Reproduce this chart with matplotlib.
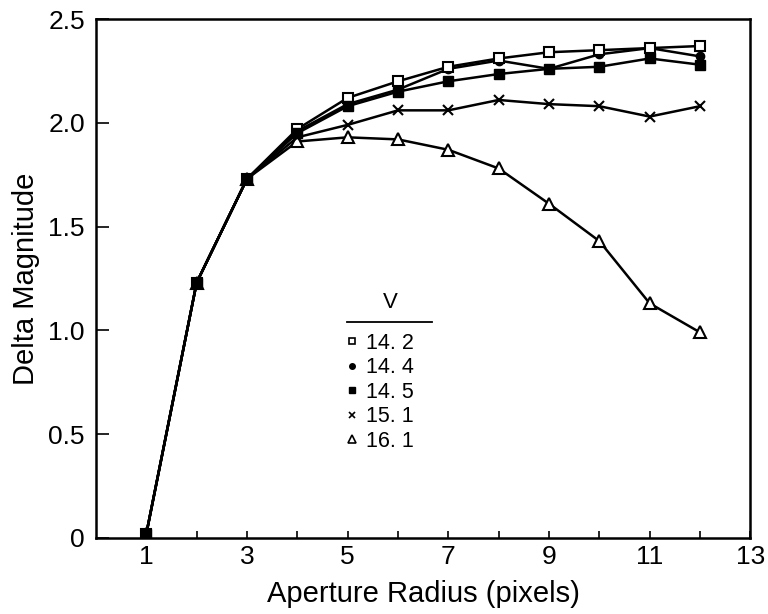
import matplotlib
matplotlib.use("Agg")
import matplotlib.pyplot as plt
from matplotlib.lines import Line2D

plt.rcParams['font.family'] = ['Liberation Sans', 'DejaVu Sans']

radius = [1, 2, 3, 4, 5, 6, 7, 8, 9, 10, 11, 12]
labels = ["14. 2", "14. 4", "14. 5", "15. 1", "16. 1"]
v142 = [0.02, 1.23, 1.73, 1.97, 2.12, 2.20, 2.27, 2.31, 2.34, 2.35, 2.36, 2.37]
v144 = [0.02, 1.23, 1.73, 1.96, 2.09, 2.16, 2.26, 2.30, 2.26, 2.33, 2.36, 2.32]
v145 = [0.02, 1.23, 1.73, 1.95, 2.08, 2.15, 2.20, 2.235, 2.26, 2.27, 2.31, 2.28]
v151 = [0.02, 1.23, 1.73, 1.93, 1.99, 2.06, 2.06, 2.11, 2.09, 2.08, 2.03, 2.08]
v161 = [0.02, 1.23, 1.73, 1.91, 1.93, 1.92, 1.87, 1.78, 1.61, 1.43, 1.13, 0.99]
xticks = [1, 3, 5, 7, 9, 11, 13]
xminor = [2, 4, 6, 8, 10, 12]
yticks = [0, 0.5, 1.0, 1.5, 2.0, 2.5]
yticklabels = ['0', '0.5', '1.0', '1.5', '2.0', '2.5']

fig = plt.figure(figsize=(7.68, 6.14), dpi=100)
ax = fig.add_axes([0.125, 0.124, 0.852, 0.845])

lw = 1.8
ax.plot(radius, v161, color='black', lw=lw, marker='^', ms=8.5, mfc='white', mec='black', mew=1.5, zorder=3)
ax.plot(radius, v151, color='black', lw=lw, marker='x', ms=7.5, mec='black', mew=1.5, zorder=3)
ax.plot(radius, v144, color='black', lw=lw, marker='o', ms=6, mfc='black', mec='black', zorder=4)
ax.plot(radius, v142, color='black', lw=lw, marker='s', ms=7, mfc='white', mec='black', mew=1.5, zorder=5)
ax.plot(radius, v145, color='black', lw=lw, marker='s', ms=6.5, mfc='black', mec='black', zorder=6)

ax.set_xlim(0, 13)
ax.set_ylim(0, 2.5)
ax.set_xticks(xticks)
ax.set_xticks(xminor, minor=True)
ax.set_yticks(yticks)
ax.set_yticklabels(yticklabels)
ax.tick_params(axis='x', which='both', direction='in', length=5, width=1.2, labelsize=19, pad=5)
ax.tick_params(axis='y', which='major', direction='in', length=9, width=1.2, labelsize=19, pad=8)
for s in ax.spines.values():
    s.set_linewidth(1.8)

ax.set_xlabel("Aperture Radius (pixels)", fontsize=21, labelpad=8)
ax.set_ylabel("Delta Magnitude", fontsize=21, labelpad=6)

handles = [
    Line2D([], [], ls='none', marker='s', ms=5, mfc='white', mec='black', mew=1.2),
    Line2D([], [], ls='none', marker='o', ms=4, mfc='black', mec='black'),
    Line2D([], [], ls='none', marker='s', ms=5, mfc='black', mec='black'),
    Line2D([], [], ls='none', marker='x', ms=5, mec='black', mew=1.2),
    Line2D([], [], ls='none', marker='^', ms=6, mfc='white', mec='black', mew=1.2),
]
leg = ax.legend(handles, labels, loc='upper left',
                bbox_to_anchor=(346 / 768, 1 - 333 / 614), bbox_transform=fig.transFigure,
                frameon=False, fontsize=15.5, handlelength=0.6,
                handletextpad=0.35, labelspacing=0.16, borderpad=0.0, borderaxespad=0.0)
fig.text(390 / 768, 1 - 302 / 614, "V", fontsize=16, ha='center', va='center')
fig.add_artist(Line2D([347 / 768, 432 / 768], [1 - 322 / 614, 1 - 322 / 614],
                      transform=fig.transFigure, color='black', lw=1.3))

fig.savefig("out.png", dpi=100)
